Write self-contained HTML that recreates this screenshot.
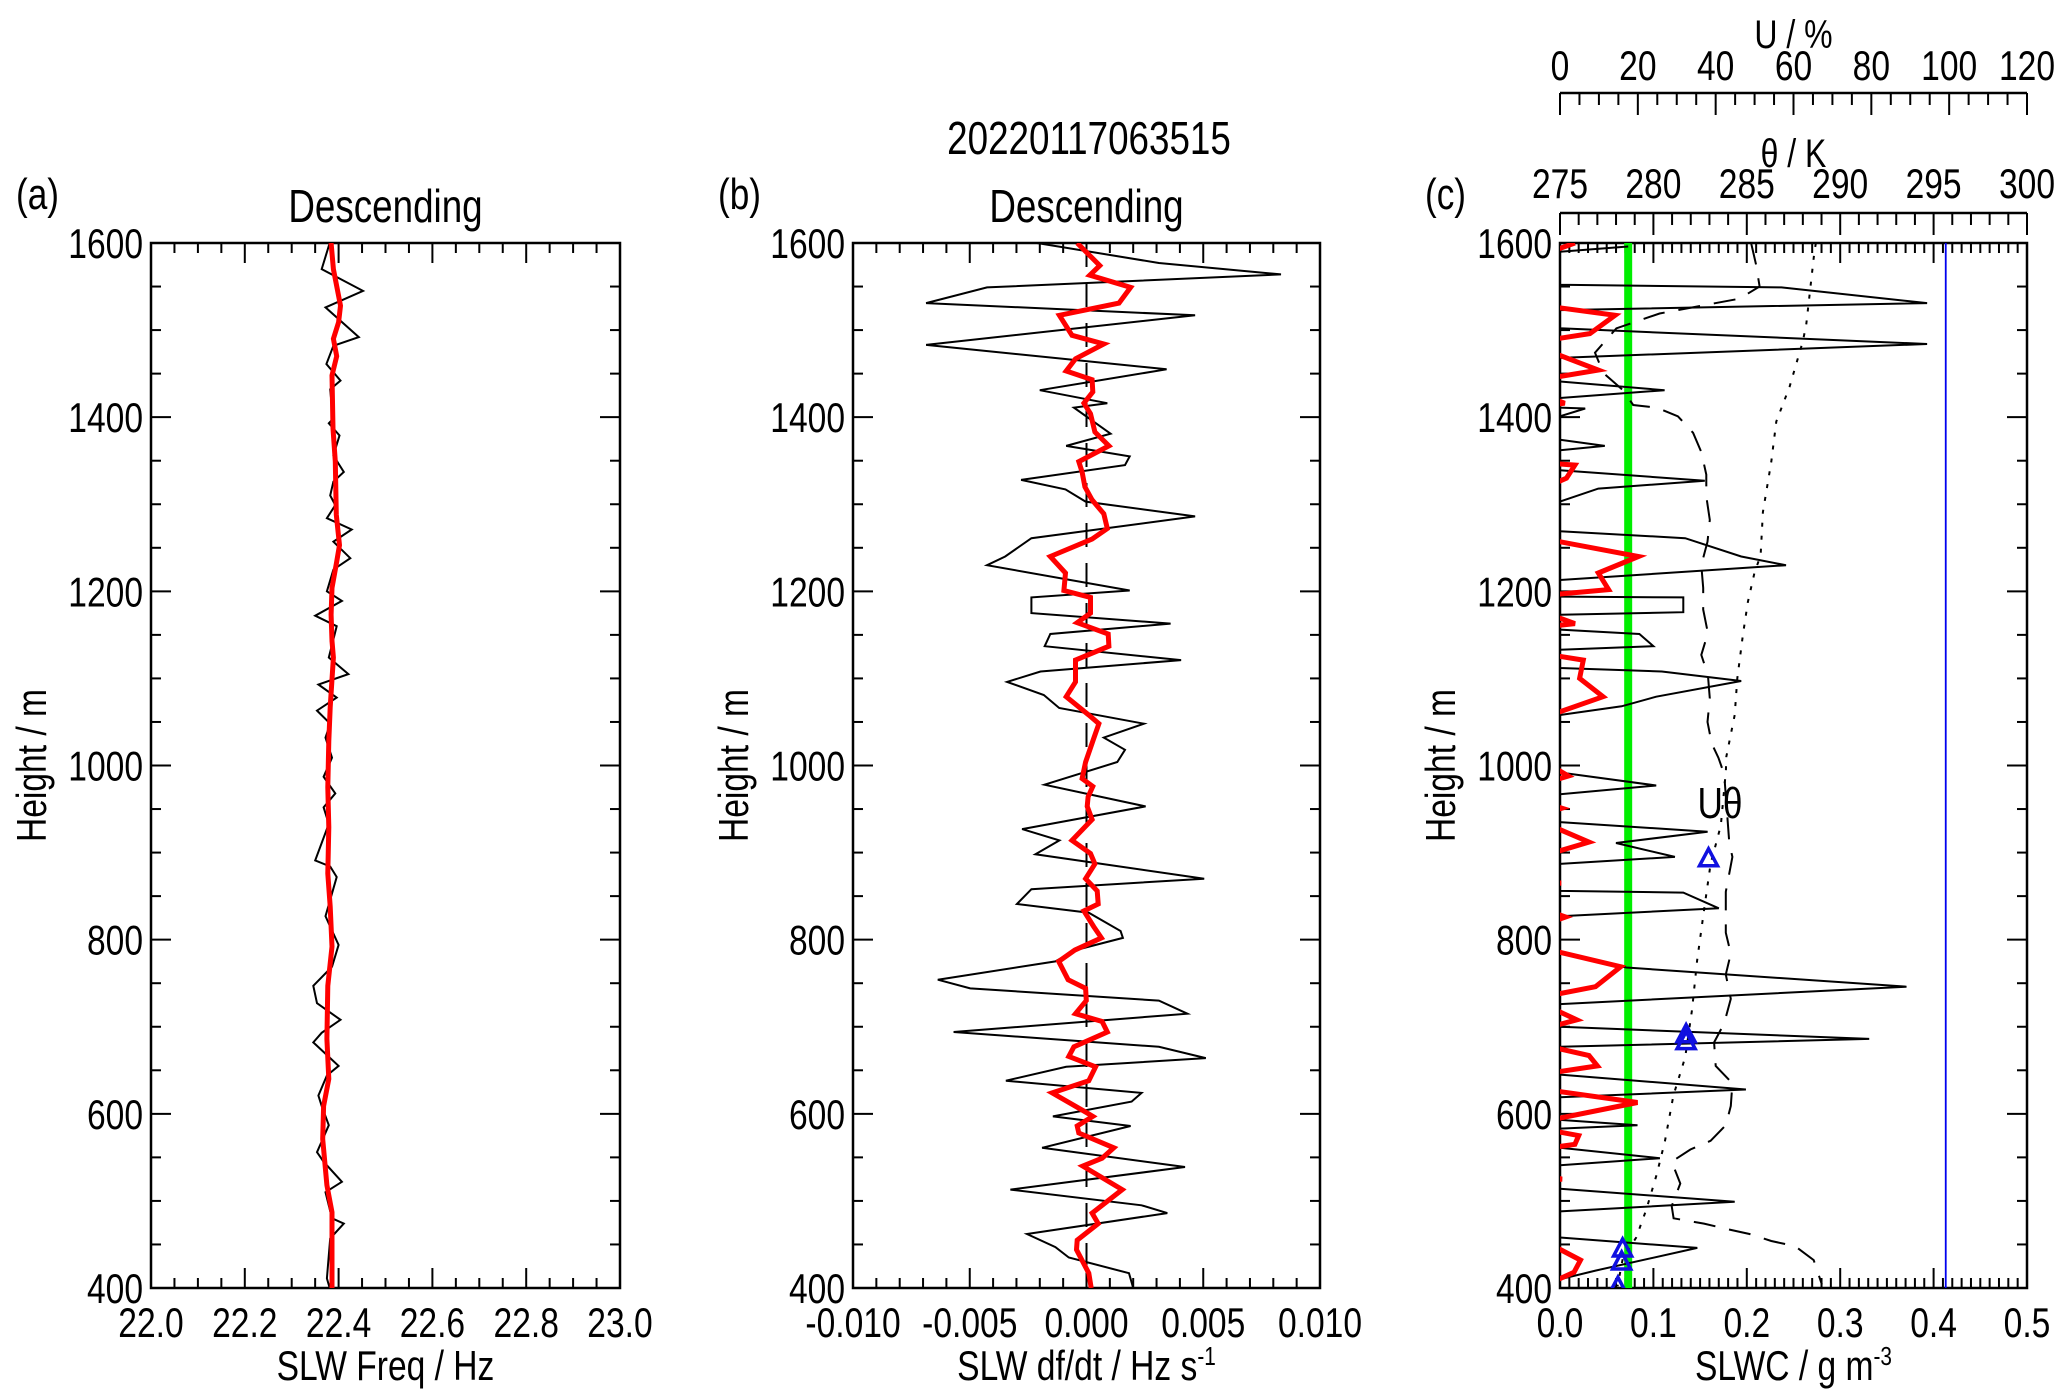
<!DOCTYPE html>
<html><head><meta charset="utf-8"><style>
html,body{margin:0;padding:0;background:#fff;}
svg{display:block;}
text{font-family:"Liberation Sans",sans-serif;fill:#000;}
</style></head><body>
<svg id="chart" width="2067" height="1398" viewBox="0 0 2067 1398" xmlns="http://www.w3.org/2000/svg">
<defs>
<clipPath id="clipA"><rect x="151" y="243" width="469" height="1045"/></clipPath>
<clipPath id="clipB"><rect x="853" y="243" width="467" height="1045"/></clipPath>
<clipPath id="clipC"><rect x="1560" y="243" width="467" height="1045"/></clipPath>
</defs>
<g id="root"></g>
</svg>
<script>
// ---- data ----
const heightTicks=[400,600,800,1000,1200,1400,1600];
const freqTicks=["22.0","22.2","22.4","22.6","22.8","23.0"];
const dfdtTicks=["-0.010","-0.005","0.000","0.005","0.010"];
const slwcTicks=["0.0","0.1","0.2","0.3","0.4","0.5"];
const uTicks=["0","20","40","60","80","100","120"];
const thetaTicks=["275","280","285","290","295","300"];

const freqRawH=[1600,1570,1545,1526,1492,1482,1461,1442,1432,1398,1393,1379,1356,1337,1326,1310,1299,1284,1271,1257,1238,1225,1200,1189,1172,1160,1124,1105,1093,1078,1063,1048,1032,1009,987,968,952,933,891,884,872,827,815,794,769,747,727,708,693,682,655,644,621,609,587,556,545,522,510,480,474,457,411,400];
const freqRawV=[22.381,22.364,22.452,22.372,22.443,22.389,22.374,22.404,22.382,22.388,22.379,22.402,22.389,22.411,22.389,22.382,22.393,22.375,22.428,22.389,22.425,22.389,22.375,22.407,22.350,22.396,22.379,22.421,22.357,22.396,22.354,22.382,22.372,22.386,22.368,22.393,22.368,22.379,22.350,22.382,22.396,22.372,22.382,22.400,22.386,22.346,22.354,22.404,22.364,22.346,22.400,22.375,22.357,22.364,22.379,22.354,22.368,22.407,22.372,22.386,22.411,22.382,22.375,22.381];
const freqSmH=[1600,1570,1528,1509,1490,1470,1448,1387,1349,1288,1253,1234,1204,1173,1143,1124,1067,1028,975,929,876,838,792,747,686,640,609,571,518,487,400];
const freqSmV=[22.384,22.389,22.404,22.400,22.389,22.396,22.386,22.388,22.393,22.395,22.402,22.396,22.386,22.384,22.386,22.389,22.382,22.379,22.377,22.379,22.377,22.382,22.386,22.377,22.375,22.379,22.368,22.366,22.375,22.386,22.386];

const dfRawH=[1600,1577,1564,1549,1531,1517,1483,1455,1431,1416,1411,1381,1367,1355,1345,1328,1317,1303,1286,1261,1240,1230,1201,1193,1175,1163,1151,1137,1121,1108,1096,1081,1066,1048,1032,1018,1004,978,953,927,914,898,870,858,841,831,810,802,788,775,754,744,730,715,694,677,664,654,638,624,614,597,586,561,539,513,495,486,462,447,435,417,400];
const dfRawV=[-2.12,3.10,8.33,-4.26,-6.87,4.65,-6.87,3.43,-2.00,0.89,-0.54,1.03,-0.87,1.85,1.65,-2.80,-0.90,-0.04,4.65,-2.36,-3.48,-4.26,1.85,-2.36,-2.36,3.60,-1.55,-1.79,4.05,-1.97,-3.40,-1.83,-1.17,2.46,0.74,1.65,1.32,-1.80,2.53,-2.76,-1.16,-2.19,5.04,-2.36,-2.98,0.10,1.46,1.56,-0.47,-1.33,-6.37,-4.98,3.10,4.32,-5.69,3.10,5.11,-0.87,-3.45,2.36,1.93,-1.44,1.89,-1.90,4.22,-3.26,2.36,3.46,-2.55,-1.33,-0.76,1.82,2.0];
const dfSmH=[1600,1574,1563,1549,1531,1517,1494,1484,1467,1453,1443,1429,1416,1404,1383,1367,1349,1337,1320,1305,1289,1272,1260,1240,1221,1201,1193,1175,1164,1151,1137,1121,1096,1079,1058,1048,1031,1004,985,976,964,953,938,914,899,887,870,856,841,833,815,802,788,775,754,744,730,715,706,694,677,666,654,638,624,602,597,586,578,561,549,540,513,486,474,455,444,417,400];
const dfSmV=[-0.40,0.57,0.14,1.89,1.39,-1.16,-0.62,0.74,-0.47,-0.87,0.24,0.27,-0.11,0.17,0.36,0.96,-0.33,-0.19,-0.07,0.24,0.74,0.89,0.24,-1.55,-0.90,-0.97,0.17,0.17,-0.40,0.93,0.96,-0.47,-0.47,-0.87,0.10,0.53,0.31,-0.04,-0.19,0.27,0.07,0.03,0.24,-0.62,0.17,0.36,-0.04,0.46,0.50,-0.11,0.31,0.64,-0.50,-1.19,-0.79,-0.04,-0.01,-0.47,0.67,0.89,-0.54,-0.76,0.39,0.10,-1.47,-0.04,0.27,-0.40,-0.33,1.17,0.67,-0.16,1.53,0.24,0.50,-0.40,-0.43,0.10,0.20];

const slwcH=[1596,1590,1552,1549,1531,1523,1502,1484,1468,1441,1431,1422,1411,1410,1401,1374,1367,1362,1339,1327,1318,1303,1269,1261,1240,1230,1213,1194,1193,1176,1173,1156,1151,1137,1133,1112,1108,1097,1079,1068,1058,992,977,967,935,924,911,895,887,856,854,836,827,784,768,746,726,700,686,677,645,628,619,593,587,583,561,549,541,514,499,488,458,446,420,410];
const slwcV=[0.073,0,0,0.237,0.393,0,0,0.393,0,0,0.112,0,0,0.027,0,0,0.048,0,0,0.155,0.041,0,0,0.134,0.194,0.242,0,0,0.132,0.132,0,0,0.085,0.100,0,0,0.109,0.194,0.103,0.066,0,0,0.103,0,0,0.158,0.060,0.123,0,0,0.132,0.170,0,0,0.071,0.371,0,0,0.331,0,0,0.199,0,0,0.083,0,0,0.107,0,0,0.187,0,0,0.147,0.038,0];
const slwcRedH=[1600,1590,1527,1517,1496,1489,1475,1454,1445,1422,1416,1414,1347,1345,1330,1322,1259,1240,1221,1202,1196,1173,1163,1160,1127,1121,1100,1079,1058,1000,988,982,955,951,947,931,912,899,867,865,863,832,826,820,788,769,746,736,722,708,700,677,667,655,647,627,613,593,581,575,565,561,528,525,523,450,432,418,406];
const slwcRedV=[0.016,-0.01,-0.01,0.059,0.032,-0.01,-0.01,0.041,-0.01,-0.01,0.005,-0.01,-0.01,0.016,0.007,-0.01,-0.01,0.084,0.041,0.052,-0.01,-0.01,0.016,-0.01,-0.01,0.025,0.021,0.046,-0.01,-0.01,0.009,-0.01,-0.01,0.002,-0.01,-0.01,0.031,-0.01,-0.01,0.001,-0.01,-0.01,0.006,-0.01,-0.01,0.065,0.038,-0.01,-0.01,0.018,-0.01,-0.01,0.031,0.040,-0.01,-0.01,0.083,-0.01,-0.01,0.020,0.016,-0.01,-0.01,0.002,-0.01,-0.01,0.022,0.015,-0.01];
const rhH=[1600,1575,1550,1536,1519,1502,1474,1451,1431,1414,1411,1401,1382,1360,1334,1309,1282,1257,1230,1204,1179,1152,1127,1104,1077,1050,1025,1009,990,911,895,855,808,784,760,732,704,682,655,635,609,587,569,559,545,520,494,480,474,468,462,454,448,432,404];
const rhV=[49.1,50.4,51.3,46.1,25.6,14.5,9,11.1,16.2,18.8,24.8,30.3,34.2,36.3,37.6,37.6,38.5,37.9,36.3,36.8,36.8,38.0,36.3,38.0,38.5,37.9,39.0,40.7,42.2,43.5,44.3,42.6,42.6,43.9,42.6,43.9,42.2,39.6,40.0,44.3,43.9,42.6,38.7,33.5,28.7,30.9,28.7,29.2,37.0,42.6,48.7,54.3,60.4,65.2,67.3];
const thH=[1600,1590,1506,1487,1435,1395,1349,1291,1241,1222,1188,1150,1100,1058,1010,994,931,887,832,776,720,665,621,569,530,490,458,434,402];
const thV=[288.7,288.62,288.18,288.0,287.29,286.58,286.31,285.86,285.74,285.42,285.06,284.79,284.49,284.35,283.90,283.88,283.61,283.06,282.70,282.34,282.07,281.70,281.07,280.62,280.17,279.62,279.08,278.36,278.08];
const triH=[894,692,684,446,431,402];
const triV=[0.159,0.135,0.135,0.067,0.066,0.062];
const threshSLWC=[0.073];
const maxSLWC=[0.413];

// ---- geometry ----
const Y0=243,Y1=1288,H0=1600,H1=400;
const sy=h=>Y0+(H0-h)/(H0-H1)*(Y1-Y0);
function lin(d0,d1,r0,r1){return v=>r0+(v-d0)/(d1-d0)*(r1-r0);}
const P={a:{x0:151,x1:620},b:{x0:853,x1:1320},c:{x0:1560,x1:2027}};
const sxA=lin(22,23,P.a.x0,P.a.x1);
const sxB=lin(-10,10,P.b.x0,P.b.x1);
const sxC=lin(0,0.5,P.c.x0,P.c.x1);
const sxU=lin(0,120,P.c.x0,P.c.x1);
const sxT=lin(275,300,P.c.x0,P.c.x1);
const NARROW=0.8;

const NS="http://www.w3.org/2000/svg";
const root=document.getElementById('root');
function el(tag,attrs,parent){const e=document.createElementNS(NS,tag);for(const k in attrs)e.setAttribute(k,attrs[k]);(parent||root).appendChild(e);return e;}
function txt(s,x,y,size,anchor,parent,rot){
 const t=el('text',{x:0,y:0,'font-size':size,'text-anchor':anchor||'middle',
  transform:'translate('+x+','+y+')'+(rot?' rotate('+rot+')':'')+' scale('+NARROW+',1)'},parent);
 t.textContent=s;return t;}
function poly(hs,vs,sx,parent,style){const pts=hs.map((h,i)=>sx(vs[i]).toFixed(1)+','+sy(h).toFixed(1)).join(' ');return el('polyline',Object.assign({points:pts,fill:'none','stroke-linejoin':'miter'},style),parent);}

function frame(key,label,xr,xTickLabels,xMinorStep,xMajorStep,sx,xtitle,sup,scaleMul){
 const p=P[key];
 const g=el('g',{});
 
 
 for(let h=400;h<=1600;h+=50){
  const y=sy(h);const L=(h%200===0)?20:10;
  el('line',{x1:p.x0,y1:y,x2:p.x0+L,y2:y,stroke:'#000','stroke-width':2},g);
  el('line',{x1:p.x1,y1:y,x2:p.x1-L,y2:y,stroke:'#000','stroke-width':2},g);
 }
 heightTicks.forEach(h=>{const t=txt(String(h),p.x0-8,sy(h)+15,42,'end',g);
  });
 const n=Math.round((xr[1]-xr[0])/xMinorStep);
 for(let i=0;i<=n;i++){
  const v=xr[0]+i*xMinorStep;const x=sx(v);
  const q=(v-xr[0])/xMajorStep;const major=Math.abs(q-Math.round(q))<1e-6;
  const L=major?20:10;
  el('line',{x1:x,y1:Y1,x2:x,y2:Y1-L,stroke:'#000','stroke-width':2},g);
  el('line',{x1:x,y1:Y0,x2:x,y2:Y0+L,stroke:'#000','stroke-width':2},g);
 }
 xTickLabels.forEach(s=>{const t=txt(s,sx(parseFloat(s)*scaleMul),1337,42,'middle',g);
  });
 el('rect',{x:p.x0,y:Y0,width:p.x1-p.x0,height:Y1-Y0,fill:'none',stroke:'#000','stroke-width':2.5},g);
 const xt=txt(xtitle,(p.x0+p.x1)/2,1380,42,'middle',g);
 
 
 if(sup){const ts=document.createElementNS(NS,'tspan');ts.setAttribute('dy','-15');ts.setAttribute('font-size','26');ts.textContent=sup;xt.appendChild(ts);}
 const yt=txt('Height / m',p.x0-105,(Y0+Y1)/2,42,'middle',g,-90);
 
 
 const lb=txt(label,p.x0-135,209,44,'start',g);
 
 
 return g;
}

const title=txt('20220117063515',1089,154,46,'middle');



// Panel a
frame('a','(a)',[22,23],freqTicks,0.05,0.2,sxA,'SLW Freq / Hz',null,1);
const da=txt('Descending',(P.a.x0+P.a.x1)/2,222,46,'middle');


const gA=el('g',{'clip-path':'url(#clipA)'});
const pa1=poly(freqRawH,freqRawV,sxA,gA,{stroke:'#000','stroke-width':2});


const pa2=poly(freqSmH,freqSmV,sxA,gA,{stroke:'#f00','stroke-width':5});



// Panel b
frame('b','(b)',[-10,10],dfdtTicks,1,5,sxB,'SLW df/dt / Hz s','-1',1000);
const db=txt('Descending',(P.b.x0+P.b.x1)/2,222,46,'middle');


const gB=el('g',{'clip-path':'url(#clipB)'});
const zl=el('line',{x1:sxB(0),y1:Y0,x2:sxB(0),y2:Y1,stroke:'#000','stroke-width':2,'stroke-dasharray':'24 16'},gB);


const pb1=poly(dfRawH,dfRawV,sxB,gB,{stroke:'#000','stroke-width':2});


const pb2=poly(dfSmH,dfSmV,sxB,gB,{stroke:'#f00','stroke-width':5});



// Panel c
frame('c','(c)',[0,0.5],slwcTicks,0.01,0.1,sxC,'SLWC / g m','-3',1);
function topAxis(y,d0,d1,minor,major,sx,labels,title,labY,titY,name){
 const g=el('g',{});
 
 
 el('line',{x1:P.c.x0,y1:y,x2:P.c.x1,y2:y,stroke:'#000','stroke-width':2.5},g);
 const n=Math.round((d1-d0)/minor);
 for(let i=0;i<=n;i++){const v=d0+i*minor;const q=(v-d0)/major;const maj=Math.abs(q-Math.round(q))<1e-6;
  el('line',{x1:sx(v),y1:y,x2:sx(v),y2:y+(maj?22:12),stroke:'#000','stroke-width':2},g);}
 labels.forEach(s=>{const t=txt(s,sx(parseFloat(s)),labY,42,'middle',g);
  });
 const t=txt(title,(P.c.x0+P.c.x1)/2,titY,40,'middle',g);
 
 
}
topAxis(93,0,120,5,20,sxU,uTicks,'U / %',80,48,'rh-axis');
topAxis(213,275,300,1,5,sxT,thetaTicks,'θ / K',198,167,'theta-axis');

const gC=el('g',{'clip-path':'url(#clipC)'});
const gl=el('line',{x1:sxC(threshSLWC[0]),y1:Y0,x2:sxC(threshSLWC[0]),y2:Y1,stroke:'#00ee00','stroke-width':8},gC);


const bl=el('line',{x1:sxC(maxSLWC[0]),y1:Y0,x2:sxC(maxSLWC[0]),y2:Y1,stroke:'#0000ee','stroke-width':1.8},gC);


const pc1=poly(slwcH,slwcV,sxC,gC,{stroke:'#000','stroke-width':2});


const pc2=poly(slwcRedH,slwcRedV,sxC,gC,{stroke:'#f00','stroke-width':5});


const pc3=poly(rhH,rhV,sxU,gC,{stroke:'#000','stroke-width':2,'stroke-dasharray':'22 14'});


const pc4=poly(thH,thV,sxT,gC,{stroke:'#000','stroke-width':2,'stroke-dasharray':'4 9'});


triH.forEach((h,i)=>{
 const x=sxC(triV[i]),y=sy(h);
 const t=el('polygon',{points:(x-9)+','+(y+8)+' '+(x+9)+','+(y+8)+' '+x+','+(y-9),fill:'none',stroke:'#1010e0','stroke-width':3.5},gC);
 
 
});
const ut=txt('Uθ',1720,818,44,'middle');


</script>
</body></html>
